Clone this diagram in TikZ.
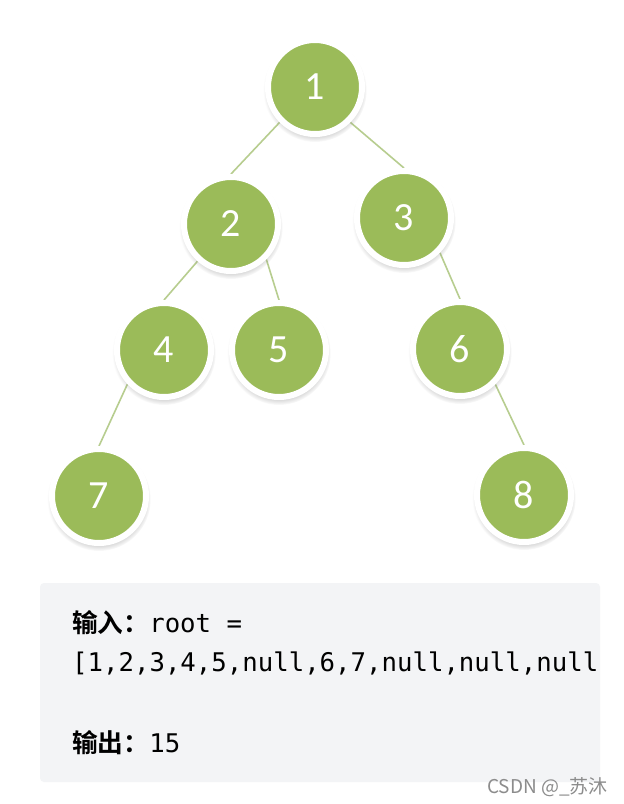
\documentclass[tikz,border=0pt]{standalone}
\usepackage{fontspec}
\setmainfont{Carlito}
\newfontfamily\cjkb{Noto Sans CJK SC Bold}
\newfontfamily\cjkl{Noto Sans CJK SC}
\newfontfamily\codemono{DejaVu Sans Mono}
\usetikzlibrary{shadows}
\pgfdeclarelayer{paper}
\pgfdeclarelayer{edges}
\pgfsetlayers{paper,edges,main}
\definecolor{treegreen}{HTML}{9BBB59}
\definecolor{edgegreen}{HTML}{B7CD8F}
\definecolor{codebg}{HTML}{F3F4F6}
\definecolor{marktext}{HTML}{8C8C8C}
\tikzset{
  treenode/.style={circle, fill=treegreen, draw=white, line width=6pt,
    minimum size=94pt, inner sep=0pt, text=white,
    font=\fontsize{40}{40}\selectfont,
    circular drop shadow={shadow xshift=0pt, shadow yshift=-3pt, shadow scale=1.1, opacity=0.4}},
  treeedge/.style={draw=edgegreen, line width=1.6pt},
  codeline/.style={anchor=base west, inner sep=0pt, font=\fontsize{25.7}{25.7}\selectfont},
}
\begin{document}
\begin{tikzpicture}[x=1pt,y=-1pt]
\useasboundingbox (0,0) rectangle (624,804);
\begin{pgfonlayer}{paper}
\fill[white] (0,0) rectangle (624,804);
\end{pgfonlayer}
% tree
\node[treenode] (n1) at (315,87) {1};
\node[treenode] (n2) at (231,224) {2};
\node[treenode] (n3) at (404,218) {3};
\node[treenode] (n4) at (164,350) {4};
\node[treenode] (n5) at (279,350) {5};
\node[treenode] (n6) at (460,349) {6};
\node[treenode] (n7) at (99,496) {7};
\node[treenode] (n8) at (524,495) {8};
\begin{pgfonlayer}{edges}
\draw[treeedge] (n1.225) -- (n2.north);
\draw[treeedge] (n1.-45) -- (n3.north);
\draw[treeedge] (n2.228) -- (n4.north);
\draw[treeedge] (n2.-45) -- (n5.north);
\draw[treeedge] (n3.-44) -- (n6.north);
\draw[treeedge] (n4.223) -- (n7.north);
\draw[treeedge] (n6.-45) -- (n8.north);
\end{pgfonlayer}
% code box
\fill[codebg, rounded corners=4pt] (40,583) rectangle (600,782);
\begin{scope}
\clip (40,583) rectangle (600,782);
\node[codeline] (l1) at (72,632) {{\cjkb 输入：}\codemono root =};
\node[codeline] (l2) at (72,671) {\codemono [1,2,3,4,5,null,6,7,null,null,null};
\node[codeline] (l3) at (72,752) {{\cjkb 输出：}\codemono 15};
\end{scope}
\node[anchor=base east, inner sep=0pt, text=marktext, font=\cjkl\fontsize{19}{19}\selectfont] (wm) at (608,793) {CSDN @\_苏沐};
\end{tikzpicture}
\end{document}
